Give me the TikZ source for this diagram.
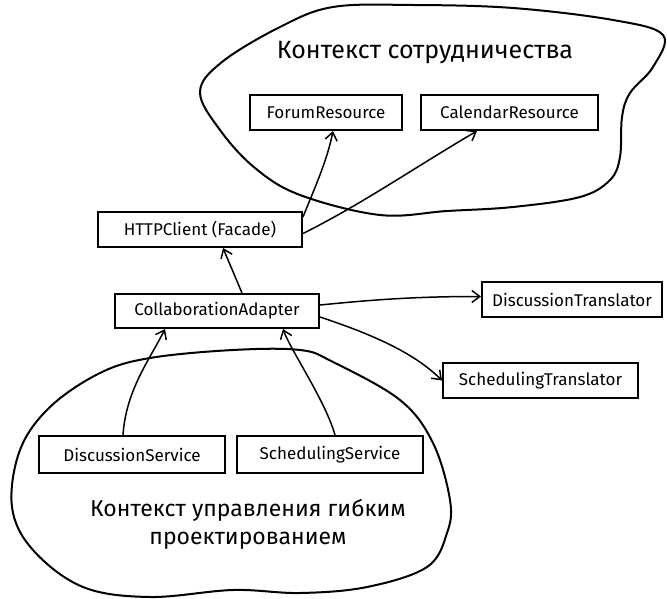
\documentclass[tikz,border=0pt]{standalone}
\usepackage{fontspec}
\setmainfont{Fira Sans}
\usetikzlibrary{arrows.meta}
\begin{document}
\begin{tikzpicture}[x=1pt,y=-1pt,
  box/.style={draw, line width=2pt, rectangle, fill=white, inner sep=0pt, font=\fontsize{17}{20}\selectfont},
  conn/.style={line width=1.5pt, -{Straight Barb[length=8pt,width=12pt,line width=1.5pt]}},
  blob/.style={line width=2pt},
  ctxA/.style={font=\fontsize{25}{30}\selectfont, align=center},
  ctxB/.style={font=\fontsize{23}{28}\selectfont, align=center}]
\useasboundingbox (0,0) rectangle (667,599);
% blobs
\draw[blob] plot[smooth cycle, tension=0.6] coordinates {
 (333,7) (413,5) (513,8) (613,20) (663,35) (653,67) (630,93) (622,117)
 (620,157) (610,180) (580,197) (513,207) (447,211) (380,215) (300,195)
 (255,168) (220,130) (200,92) (222,62) (280,27)};
\draw[blob] plot[smooth cycle, tension=0.6] coordinates {
 (150,358) (233,350) (300,350) (333,362) (400,400) (433,443) (450,500)
 (447,533) (427,567) (367,587) (300,593) (233,590) (150,597) (83,587)
 (33,550) (12,507) (20,450) (50,407) (100,373)};
% labels
\node[ctxA] (ctxA) at (425,53) {Контекст сотрудничества};
\node[ctxB] (ctxB) at (248,524) {Контекст управления гибким\\проектированием};
% boxes
\node[box, minimum width=152pt, minimum height=35pt] (forum) at (326,112.5) {ForumResource};
\node[box, minimum width=177pt, minimum height=35pt] (calendar) at (509.5,112.5) {CalendarResource};
\node[box, minimum width=204pt, minimum height=35pt] (http) at (200,229.5) {HTTPClient (Facade)};
\node[box, minimum width=204pt, minimum height=34pt] (adapter) at (217,311) {CollaborationAdapter};
\node[box, minimum width=180pt, minimum height=35pt] (dtrans) at (572,299.5) {DiscussionTranslator};
\node[box, minimum width=195pt, minimum height=35pt] (strans) at (540.5,380.5) {SchedulingTranslator};
\node[box, minimum width=186pt, minimum height=37pt] (dserv) at (132,454.5) {DiscussionService};
\node[box, minimum width=186pt, minimum height=37pt] (sserv) at (330,454.5) {SchedulingService};
% connectors
\draw[conn] ([yshift=-6pt]http.north east) .. controls +(12,-30) and +(-6,30) .. ([xshift=7pt]forum.south);
\draw[conn] ([yshift=-4pt]http.east) .. controls +(60,-30) and +(-60,35) .. ([xshift=57pt]calendar.south west);
\draw[conn] ([xshift=25pt]adapter.north) -- ([xshift=23pt]http.south);
\draw[conn] ([yshift=6pt]adapter.east) .. controls +(60,-6) and +(-60,0) .. ([yshift=3pt]dtrans.west);
\draw[conn] ([yshift=-6pt]adapter.east) .. controls +(45,15) and +(-30,-30) .. (strans.west);
\draw[conn] ([xshift=-9pt]dserv.north) .. controls +(3,-45) and +(-15,30) .. ([xshift=-52pt]adapter.south);
\draw[conn] ([xshift=5pt]sserv.north) .. controls +(-10,-35) and +(8,22) .. ([xshift=66pt]adapter.south);
\end{tikzpicture}
\end{document}
